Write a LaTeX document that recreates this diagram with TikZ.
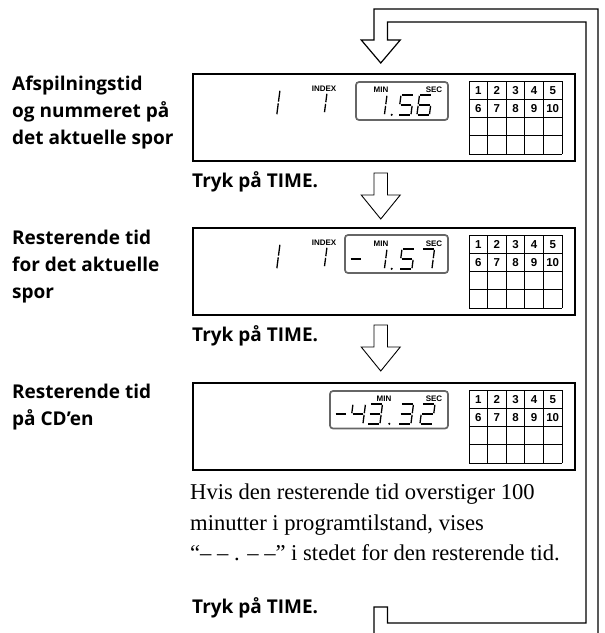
\documentclass[tikz,border=0pt]{standalone}
\usepackage{fontspec}
\setmainfont{Liberation Serif}
\newfontfamily\lblfont{Open Sans}
\newfontfamily\lcdfont{Liberation Sans}
\newcommand\lcdw{12.5}
\newcommand\lcdg{0.8}
\newcommand\lcdh{20}
\newcommand\Sega{\draw[seg] (\lcdg,0) -- (\lcdw-\lcdg,0);}
\newcommand\Segb{\draw[seg] (\lcdw,\lcdg) -- (\lcdw,\lcdh/2-\lcdg);}
\newcommand\Segc{\draw[seg] (\lcdw,\lcdh/2+\lcdg) -- (\lcdw,\lcdh-\lcdg);}
\newcommand\Segd{\draw[seg] (\lcdg,\lcdh) -- (\lcdw-\lcdg,\lcdh);}
\newcommand\Sege{\draw[seg] (0,\lcdh/2+\lcdg) -- (0,\lcdh-\lcdg);}
\newcommand\Segf{\draw[seg] (0,\lcdg) -- (0,\lcdh/2-\lcdg);}
\newcommand\Segg{\draw[seg] (\lcdg,\lcdh/2) -- (\lcdw-\lcdg,\lcdh/2);}
% x (left), y (top), height, segments
\newcommand\lcddigit[4]{\begin{scope}[shift={(#1,#2)},xslant=0.13]\renewcommand\lcdh{#3}\foreach \s in {#4}{\csname Seg\s\endcsname}\end{scope}}
% grid of track numbers: name prefix, x, y
\newcommand\numgrid[3]{%
  \foreach \i in {0,...,5} \draw[gridline] (#2+\i*18.6,#3) -- (#2+\i*18.6,#3+73);
  \foreach \j in {0,...,4} \draw[gridline] (#2,#3+\j*18.25) -- (#2+93,#3+\j*18.25);
  \foreach \n in {1,...,5} \node[gridnum] (#1n\n) at (#2+\n*18.6-9.3,#3+9.3) {\n};
  \foreach \n in {6,...,10} \node[gridnum] (#1n\n) at (#2+\n*18.6-93-9.3,#3+27.5) {\n};
}
\newcommand\blockarrow[1]{\draw[blockarrow] (374,#1) -- (387.5,#1) -- (387.5,#1+22) -- (400.25,#1+22) -- (380.75,#1+46) -- (361.25,#1+22) -- (374,#1+22) -- cycle;}
\begin{document}
\begin{tikzpicture}[x=1pt,y=-1pt,
  panel/.style={draw, line width=1.5pt, minimum width=382pt, minimum height=87pt, anchor=north west, inner sep=0pt, outer sep=0pt},
  timebox/.style={draw=black!60, line width=1.7pt, rounded corners=3pt},
  seg/.style={line width=1.3pt},
  gridline/.style={line width=0.8pt},
  blockarrow/.style={draw, line width=0.9pt, line join=miter},
  loopline/.style={line width=1.2pt, line join=miter},
  lbl/.style={font=\lblfont\bfseries\fontsize{19}{27}\selectfont, inner sep=0pt, anchor=base west},
  note/.style={font=\fontsize{22.6}{30}\selectfont, inner sep=0pt, anchor=base west},
  tinylbl/.style={font=\lcdfont\bfseries\fontsize{8}{8}\selectfont, inner sep=0pt},
  gridnum/.style={font=\lcdfont\bfseries\fontsize{11.5}{11.5}\selectfont, inner sep=0pt},
]
\useasboundingbox (0,0) rectangle (605,633);
\clip (0,0) rectangle (605,633);

% loop arrow
\draw[loopline] (374,640) -- (374,607) -- (387.5,607) -- (387.5,623) -- (586,623) -- (586,22)
  -- (387.5,22) -- (387.5,40) -- (400.25,40) -- (380.75,63) -- (361.25,40) -- (374,40)
  -- (374,9) -- (598,9) -- (598,640);

% panels
\node[panel] (p1) at (193,74) {};
\node[panel] (p2) at (193,228) {};
\node[panel] (p3) at (193,383) {};

% panel 1 contents
\begin{scope}
  \lcddigit{267.5}{90}{25}{b,c}
  \node[tinylbl] (idx1) at (324,89) {INDEX};
  \lcddigit{314.5}{93}{20}{b,c}
  \draw[timebox] (356,82) rectangle (448,120);
  \node[tinylbl] (min1) at (381,89.5) {MIN};
  \node[tinylbl] (sec1) at (434,89.5) {SEC};
  \lcddigit{374.5}{95}{20}{b,c}
  \fill (391.7,114.8) circle (1.2pt);
  \lcddigit{401}{95}{20}{a,f,g,c,d}
  \lcddigit{419.5}{95}{20}{a,f,g,e,c,d}
  \numgrid{ga}{469}{81}
\end{scope}

% panel 2 contents
\begin{scope}[shift={(0,154)}]
  \lcddigit{267.5}{90}{25}{b,c}
  \node[tinylbl] (idx2) at (324,89) {INDEX};
  \lcddigit{314.5}{93}{20}{b,c}
  \draw[timebox] (345,81) rectangle (448,119);
  \node[tinylbl] (min2) at (381,89.5) {MIN};
  \node[tinylbl] (sec2) at (434,89.5) {SEC};
  \lcddigit{351}{95}{20}{g}
  \lcddigit{374.5}{95}{20}{b,c}
  \fill (391.7,114.8) circle (1.2pt);
  \lcddigit{402}{95}{20}{a,f,g,c,d}
  \lcddigit{422}{95}{20}{a,b,c}
  \numgrid{gb}{469}{81}
\end{scope}

% panel 3 contents
\begin{scope}[shift={(0,309)}]
  \draw[timebox] (330,82) rectangle (448,119.5);
  \node[tinylbl] (min3) at (384,89.5) {MIN};
  \node[tinylbl] (sec3) at (434,89.5) {SEC};
  \lcddigit{336}{95}{20}{g}
  \lcddigit{353}{95}{20}{f,g,b,c}
  \lcddigit{370}{95}{20}{a,b,g,c,d}
  \fill (389.3,114.8) circle (1.2pt);
  \lcddigit{401}{95}{20}{a,b,g,c,d}
  \lcddigit{422.5}{95}{20}{a,b,g,e,d}
  \numgrid{gc}{469}{81}
\end{scope}

% block arrows between panels
\blockarrow{173}
\blockarrow{325}

% left labels
\node[lbl] (l1a) at (12,90) {Afspilningstid};
\node[lbl] (l1b) at (12,117) {og nummeret på};
\node[lbl] (l1c) at (12,144) {det aktuelle spor};
\node[lbl] (l2a) at (12,244) {Resterende tid};
\node[lbl] (l2b) at (12,271) {for det aktuelle};
\node[lbl] (l2c) at (12,298) {spor};
\node[lbl] (l3a) at (12,398) {Resterende tid};
\node[lbl] (l3b) at (12,425) {på CD’en};

% press TIME
\node[lbl] (t1) at (192,187) {Tryk på TIME.};
\node[lbl] (t2) at (192,341) {Tryk på TIME.};
\node[lbl] (t3) at (192,613) {Tryk på TIME.};

% note
\node[note] (n1) at (190,499) {Hvis den resterende tid overstiger 100};
\node[note] (n2) at (190,530) {minutter i programtilstand, vises};
\node[note] (n3) at (190,560.5) {“– – . – –” i stedet for den resterende tid.};
\end{tikzpicture}
\end{document}
